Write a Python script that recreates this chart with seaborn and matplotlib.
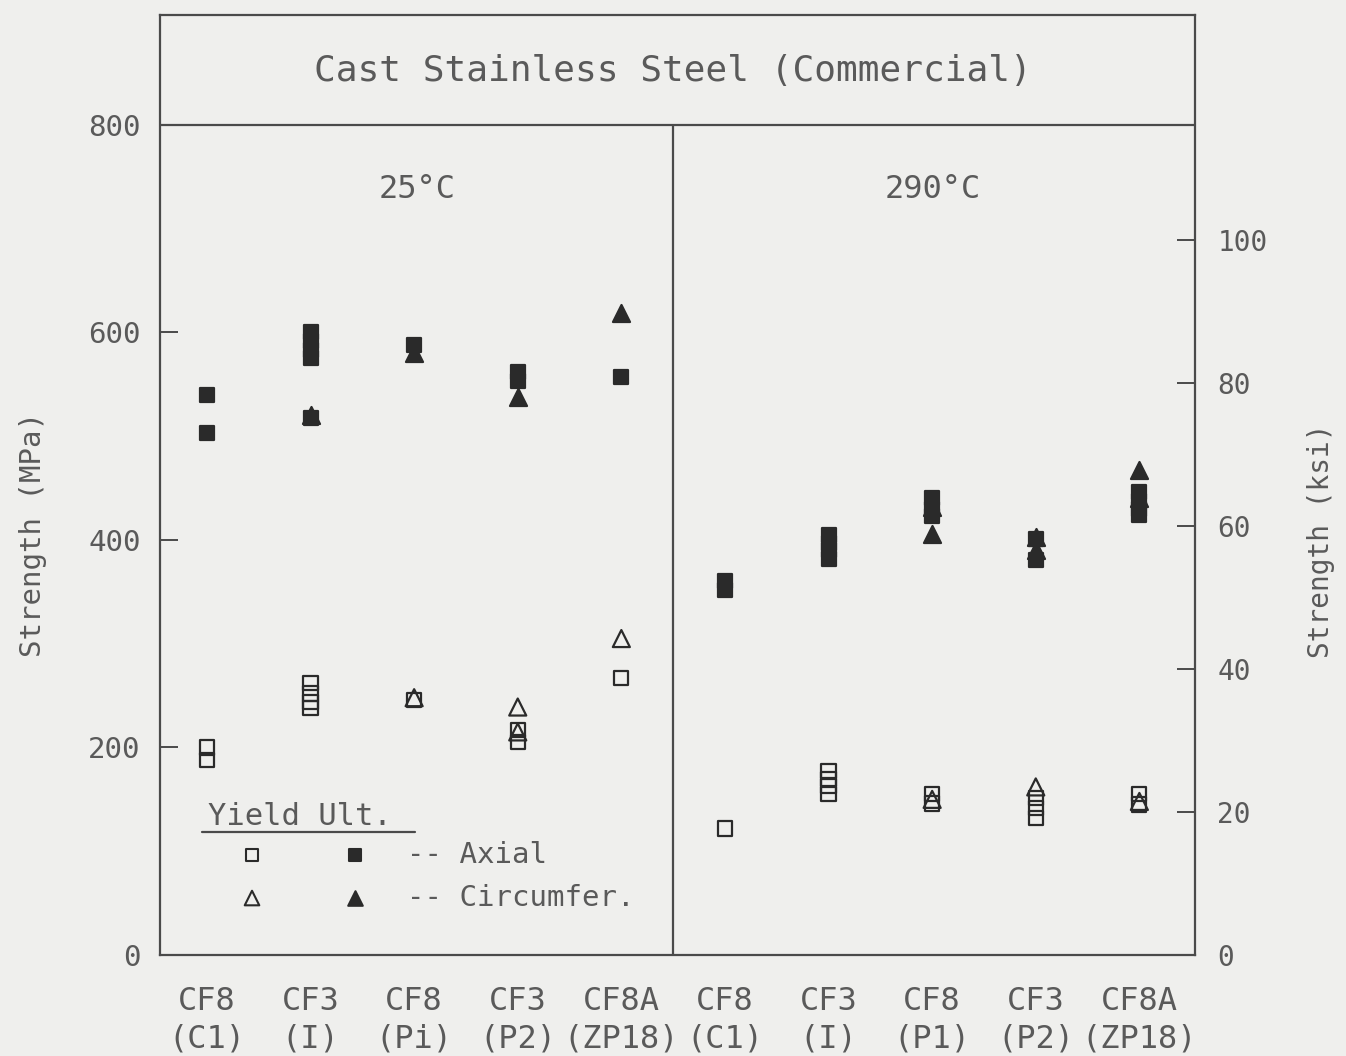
import numpy as np
import pandas as pd
import matplotlib
matplotlib.use("Agg")
import matplotlib.pyplot as plt
from matplotlib.lines import Line2D
import seaborn as sns

# ---------------- data ----------------
alloy = ["CF8", "CF3", "CF8", "CF3", "CF8A", "CF8", "CF3", "CF8", "CF3", "CF8A"]
heat = ["(C1)", "(I)", "(Pi)", "(P2)", "(ZP18)", "(C1)", "(I)", "(P1)", "(P2)", "(ZP18)"]
temperature = ["25°C", "290°C"]

# strengths in MPa, one list per material column (0-4 at 25°C, 5-9 at 290°C)
yield_axial = [[200, 188], [262, 252, 244, 238], [246], [217, 205], [267],
               [122], [177, 170, 163, 155], [155, 146], [151, 142, 132], [155, 145]]
yield_circ = [[], [], [248], [239, 215], [305],
              [], [], [150], [162], [148]]
ult_axial = [[540, 503], [600, 592, 583, 575, 518], [588], [562, 553], [557],
             [360, 352], [405, 397, 390, 382], [440, 430, 423], [401, 381], [446, 438, 430, 424]]
ult_circ = [[], [520], [580], [538], [619],
            [], [], [406, 432], [403, 390], [467, 440]]

MPA_PER_KSI = 6.895

rows = []
for kind, orient, series in [("Yield", "Axial", yield_axial), ("Yield", "Circumfer.", yield_circ),
                             ("Ult.", "Axial", ult_axial), ("Ult.", "Circumfer.", ult_circ)]:
    for i, vals in enumerate(series):
        for v in vals:
            rows.append({"pos": i, "strength": v, "kind": kind, "orient": orient})
df = pd.DataFrame(rows)

# ---------------- style ----------------
BG = "#efefed"
INK = "#2a2a2a"
LINE = "#4a4a4a"
TXT = "#5a5a5a"

sns.set_theme(style="white")
plt.rcParams["font.family"] = ["DejaVu Sans Mono", "DejaVu Sans"]

fig = plt.figure(figsize=(13.46, 10.56), dpi=100, facecolor=BG)
ax = fig.add_axes([160 / 1346, 1 - 955 / 1056, 1035 / 1346, 940 / 1056])
ax.set_facecolor(BG)

ymax = 906
ax.set_xlim(-0.453, 9.537)
ax.set_ylim(0, ymax)

styles = {
    ("Yield", "Axial"): dict(marker="s", s=105, facecolor="none"),
    ("Yield", "Circumfer."): dict(marker="^", s=150, facecolor="none"),
    ("Ult.", "Axial"): dict(marker="s", s=105, facecolor=INK),
    ("Ult.", "Circumfer."): dict(marker="^", s=150, facecolor=INK),
}
for (kind, orient), sub in df.groupby(["kind", "orient"]):
    st = styles[(kind, orient)]
    sns.scatterplot(data=sub, x="pos", y="strength", ax=ax, marker=st["marker"], s=st["s"],
                    facecolor=st["facecolor"], edgecolor=INK, color=INK, linewidth=1.6,
                    legend=False, zorder=3)

# frame: title band and temperature divider
ax.axhline(800, color=LINE, lw=1.6, zorder=2)
ax.vlines(4.5, 0, 800, color=LINE, lw=1.6, zorder=2)
for sp in ax.spines.values():
    sp.set_color(LINE)
    sp.set_linewidth(1.6)

ax.text(4.5, 852, "Cast Stainless Steel (Commercial)", ha="center", va="center",
        fontsize=26, color=TXT)
ax.text(2.03, 738, temperature[0], ha="center", va="center", fontsize=23, color=TXT)
ax.text(7.01, 738, temperature[1], ha="center", va="center", fontsize=23, color=TXT)

# axes / ticks
ax.set_xticks(range(len(alloy)))
ax.set_xticklabels([f"{a}\n{h}" for a, h in zip(alloy, heat)], linespacing=1.3)
ax.set_yticks([0, 200, 400, 600, 800])
ax.set_yticklabels(["0", "200", "400", "600", "800"])
ax.tick_params(axis="x", direction="in", length=13, width=1.4, color=LINE,
               labelcolor=TXT, labelsize=23, pad=22)
ax.tick_params(axis="y", direction="in", length=13, width=1.4, color=LINE,
               labelcolor=TXT, labelsize=21, pad=14)
ax.set_xlabel("")
ax.set_ylabel("Strength (MPa)", fontsize=21, color=TXT)
ax.yaxis.set_label_coords(-0.109, 0.447)

ax2 = ax.twinx()
ax2.set_ylim(0, ymax / MPA_PER_KSI)
ax2.set_yticks([0, 20, 40, 60, 80, 100])
ax2.set_yticklabels(["0", "20", "40", "60", "80", "100"])
ax2.tick_params(axis="y", direction="in", length=13, width=1.4, color=LINE,
                labelcolor=TXT, labelsize=20, pad=16)
ax2.set_ylabel("Strength (ksi)", fontsize=20, color=TXT, rotation=90)
ax2.yaxis.set_label_coords(1.108, 0.441)
for sp in ax2.spines.values():
    sp.set_visible(False)

# legend block
T = ax.transAxes
ax.text(0.0464, 0.147, "Yield Ult.", transform=T, ha="left", va="center", fontsize=22, color=TXT)
ax.add_line(Line2D([0.0406, 0.2464], [0.1309, 0.1309], transform=T, color=LINE, lw=1.6))
ax.scatter([0.0889], [0.1064], transform=T, marker="s", s=80, facecolor="none", edgecolor=INK, lw=1.5)
ax.scatter([0.1884], [0.1064], transform=T, marker="s", s=80, facecolor=INK, edgecolor=INK, lw=1.5)
ax.scatter([0.0889], [0.0606], transform=T, marker="^", s=110, facecolor="none", edgecolor=INK, lw=1.5)
ax.scatter([0.1884], [0.0606], transform=T, marker="^", s=110, facecolor=INK, edgecolor=INK, lw=1.5)
ax.text(0.2386, 0.1064, "-- Axial", transform=T, ha="left", va="center", fontsize=21, color=TXT)
ax.text(0.2386, 0.0606, "-- Circumfer.", transform=T, ha="left", va="center", fontsize=21, color=TXT)

fig.savefig("out.png", dpi=100, facecolor=BG)
